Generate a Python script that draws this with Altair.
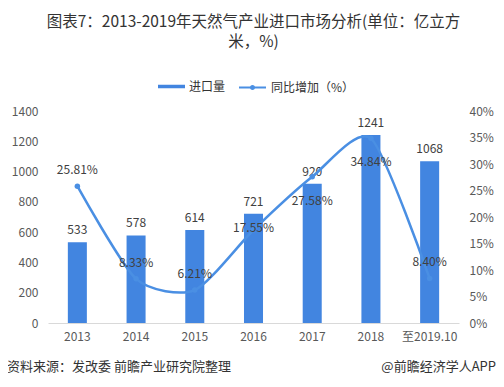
import altair as alt
import pandas as pd

# ---- data ----
years = ["2013", "2014", "2015", "2016", "2017", "2018", "至2019.10"]
imports = [533, 578, 614, 721, 920, 1241, 1068]
growth = [25.81, 8.33, 6.21, 17.55, 27.58, 34.84, 8.40]
growth_labels = ["25.81%", "8.33%", "6.21%", "17.55%", "27.58%", "34.84%", "8.40%"]
left_ticks = [0, 200, 400, 600, 800, 1000, 1200, 1400]
right_ticks = [0, 5, 10, 15, 20, 25, 30, 35, 40]
title_lines = ["图表7：2013-2019年天然气产业进口市场分析(单位：亿立方", "米，%)"]
bar_series = "进口量"
line_series = "同比增加（%）"
footer_left = "资料来源：发改委 前瞻产业研究院整理"
footer_right = "@前瞻经济学人APP"

# label placement groups (years)
above_years = ["2013", "2014", "2015", "至2019.10"]
center_years = ["2016"]
below_years = ["2017", "2018"]

FONT = "Noto Sans CJK SC"
BAR = "#4285E0"
LINE = "#4A8FE3"
TXT = "#404040"

df = pd.DataFrame({"year": years, "imports": imports, "growth": growth,
                   "label": growth_labels})
df["s1"] = bar_series
df["s2"] = line_series

x = alt.X("year:N", sort=years,
          scale=alt.Scale(paddingInner=0.676, paddingOuter=0.338),
          axis=alt.Axis(title=None, labelAngle=0, ticks=False, domainColor="#d9d9d9",
                        labelFont=FONT, labelFontSize=12, labelColor="#595959",
                        labelPadding=8))

yl = alt.Y("imports:Q", scale=alt.Scale(domain=[0, 1400]),
           axis=alt.Axis(title=None, values=left_ticks, format="d", domain=False,
                         ticks=False, grid=False, labelFont=FONT, labelFontSize=12,
                         labelColor="#595959", labelPadding=10))
yr = alt.Y("growth:Q", scale=alt.Scale(domain=[0, 40]),
           axis=alt.Axis(title=None, orient="right", values=right_ticks, domain=False,
                         ticks=False, grid=False, labelExpr="datum.value + '%'",
                         labelFont=FONT, labelFontSize=12, labelColor="#595959",
                         labelPadding=10))

bar_sym = "M-1,-0.13L1,-0.13L1,0.13L-1,0.13Z"
line_sym = ("M-1,0L1,0M-0.12,0A0.12,0.12 0 1,0 0.12,0A0.12,0.12 0 1,0 -0.12,0")

base = alt.Chart(df)

bars = base.mark_bar().encode(
    x=x, y=yl,
    fill=alt.Fill("s1:N", scale=alt.Scale(range=[BAR]),
                  legend=alt.Legend(orient="none", legendX=110, legendY=-38, title=None,
                                    symbolType=bar_sym, symbolSize=729,
                                    symbolStrokeWidth=0, labelOffset=4,
                                    labelFont=FONT, labelFontSize=12,
                                    labelColor="#333333", padding=0)))
bar_text = base.mark_text(dy=-12, font=FONT, fontSize=12, color=TXT).encode(
    x=x, y=yl, text="imports:Q")
bar_group = alt.layer(bars, bar_text)

line = base.mark_line(interpolate="cardinal", tension=0.3, strokeWidth=2.5).encode(
    x=x, y=yr,
    stroke=alt.Stroke("s2:N", scale=alt.Scale(range=[LINE]),
                      legend=alt.Legend(orient="none", legendX=190, legendY=-38,
                                        title=None, symbolType=line_sym,
                                        symbolSize=729, symbolStrokeWidth=2,
                                        symbolFillColor=LINE, labelOffset=4,
                                        labelFont=FONT, labelFontSize=12,
                                        labelColor="#333333", padding=0)))
pts = base.mark_point(filled=True, size=30, opacity=1, color=LINE).encode(
    x=x, y=yr)


def lbl(yrs, dy):
    return base.mark_text(dy=dy, font=FONT, fontSize=12, color=TXT).encode(
        x=x, y=yr, text="label:N"
    ).transform_filter(alt.FieldOneOfPredicate(field="year", oneOf=yrs))


line_group = alt.layer(line, pts, lbl(above_years, -16), lbl(center_years, -2),
                       lbl(below_years, 24))

foot_df = pd.DataFrame({"l": [footer_left], "r": [footer_right]})
foot_l = alt.Chart(foot_df).mark_text(align="left", baseline="middle", font=FONT,
                                      fontSize=13, color="#333333").encode(
    x=alt.value(-41), y=alt.value(256), text="l:N")
foot_r = alt.Chart(foot_df).mark_text(align="right", baseline="middle", font=FONT,
                                      fontSize=13, color="#333333").encode(
    x=alt.value(448), y=alt.value(256), text="r:N")

chart = alt.layer(bar_group, line_group, foot_l, foot_r).resolve_scale(
    y="independent"
).properties(
    width=411, height=212,
    autosize=alt.AutoSizeParams(type="none"),
    padding={"left": 40, "top": 103, "right": 37, "bottom": 56},
    title=alt.TitleParams(text=title_lines, font=FONT, fontSize=15.5,
                          fontWeight="normal", color="#333333", anchor="middle",
                          offset=23, lineHeight=20),
).configure_view(stroke=None)

chart.save("out.html", embed_options={"renderer": "svg", "actions": False})
